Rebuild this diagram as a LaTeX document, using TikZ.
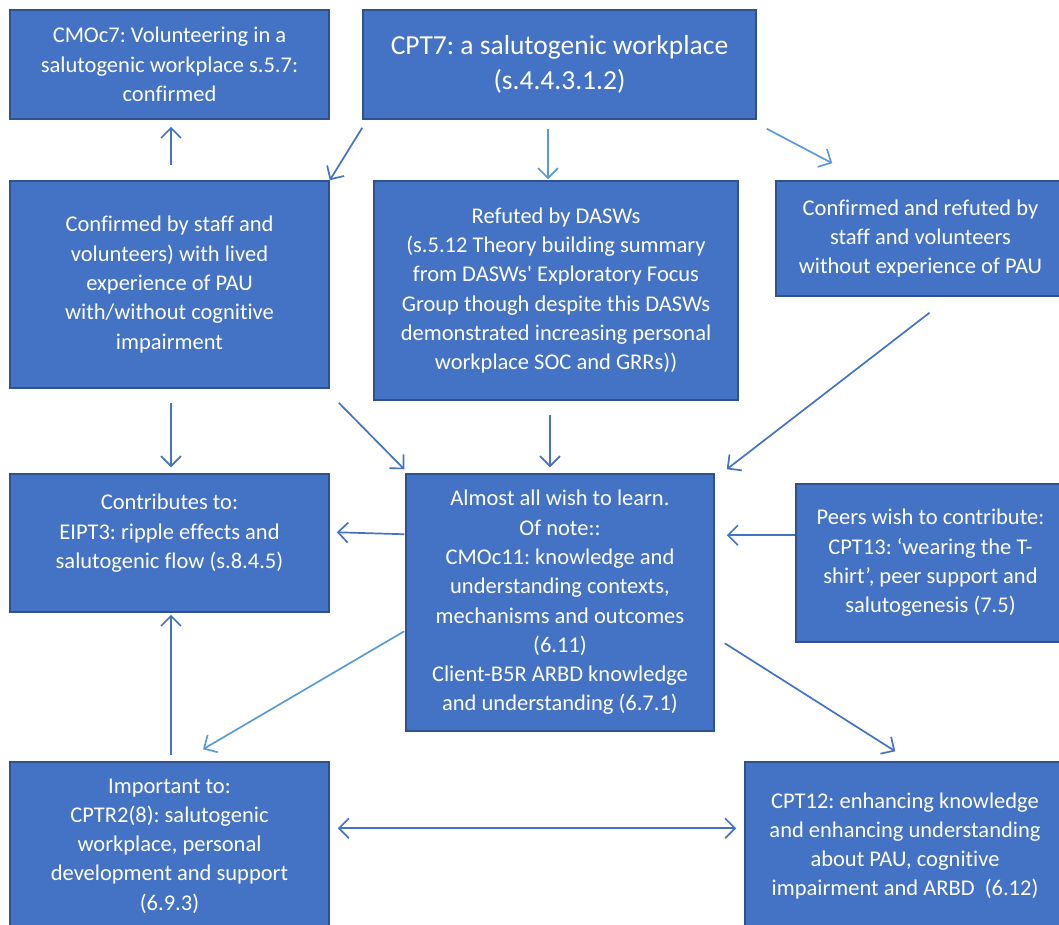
\documentclass[tikz,border=0pt]{standalone}
\usepackage{fontspec}
\setmainfont{Carlito}[Ligatures={TeX,NoCommon}]
\usetikzlibrary{arrows.meta,calc}
\definecolor{boxfill}{HTML}{4472C4}
\definecolor{boxline}{HTML}{2F528F}
\definecolor{arrdark}{HTML}{4472C4}
\definecolor{arrlight}{HTML}{5B9BD5}
\frenchspacing
\begin{document}
\begin{tikzpicture}[x=1pt,y=-1pt,
  box/.style={draw=boxline, line width=1.5pt, fill=boxfill, text=white, align=center,
    inner sep=0pt, font=\fontsize{22.5}{29.3}\selectfont},
  bigtext/.style={font=\fontsize{27.5}{35}\selectfont},
  conn/.style={draw=arrdark, line width=1.7pt, -{Straight Barb[length=10pt,width=20pt,line width=1.7pt]}},
  connl/.style={conn, draw=arrlight},
  both/.style={conn, {Straight Barb[length=10pt,width=20pt,line width=1.7pt]}-{Straight Barb[length=10pt,width=20pt,line width=1.7pt]}}]
\useasboundingbox[fill=white] (0,0) rectangle (1059,924);

\node[box, minimum width=319pt, minimum height=109pt] (cmoc) at (169.5,64.5)
  {CMOc7: Volunteering in a\\salutogenic workplace s.5.7:\\confirmed};
\node[box, bigtext, minimum width=393pt, minimum height=109pt] (cpt7) at (559.5,64.5)
  {CPT7: a salutogenic workplace\\(s.4.4.3.1.2)};
\node[box, minimum width=319pt, minimum height=207pt] (conf) at (169.5,284.5)
  {Confirmed by staff and\\volunteers) with lived\\experience of PAU\\with/without cognitive\\impairment};
\node[box, minimum width=364pt, minimum height=219pt] (ref) at (556,290.5)
  {Refuted by DASWs\\(s.5.12 Theory building summary\\from DASWs\textquotesingle{} Exploratory Focus\\Group though despite this DASWs\\demonstrated increasing personal\\workplace SOC and GRRs))};
\node[box, minimum width=289pt, minimum height=115pt] (cr) at (920.5,238.5)
  {Confirmed and refuted by\\staff and volunteers\\without experience of PAU};
\node[box, minimum width=319pt, minimum height=138pt] (contrib) at (169.5,543)
  {Contributes to:\\EIPT3: ripple effects and\\salutogenic flow (s.8.4.5)\\[-6pt]\mbox{}};
\node[box, minimum width=308pt, minimum height=257pt] (almost) at (560,602.5)
  {Almost all wish to learn.\\Of note::\\CMOc11: knowledge and\\understanding contexts,\\mechanisms and outcomes\\(6.11)\\Client-B5R ARBD knowledge\\and understanding (6.7.1)};
\node[box, minimum width=269pt, minimum height=158pt] (peers) at (930.5,563)
  {Peers wish to contribute:\\CPT13: ‘wearing the T-\\shirt’, peer support and\\salutogenesis (7.5)};
\node[box, minimum width=319pt, minimum height=168pt] (imp) at (169.5,846)
  {Important to:\\CPTR2(8): salutogenic\\workplace, personal\\development and support\\(6.9.3)};
\node[box, minimum width=320pt, minimum height=168pt] (cpt12) at (905,846)
  {CPT12: enhancing knowledge\\and enhancing understanding\\about PAU, cognitive\\impairment and ARBD~~(6.12)};

% connectors
\draw[conn] ($(conf.north)+(1.5,-15)$) -- ($(cmoc.south)+(1.5,7)$);
\draw[conn] ($(cpt7.south west)+(0,8)$) -- (conf.north east);
\draw[connl] ($(cpt7.south)+(-11.5,9)$) -- ($(ref.north)+(-8,-1)$);
\draw[connl] ($(cpt7.south east)+(10,9)$) -- ($(cr.north west)+(57,-17)$);
\draw[conn] ($(conf.south)+(1.5,14)$) -- ($(contrib.north)+(1.5,-6)$);
\draw[conn] ($(conf.south east)+(9,14)$) -- ($(almost.north west)+(-1,-4)$);
\draw[conn] ($(ref.south)+(-6,14)$) -- ($(almost.north)+(-10,-6)$);
\draw[conn] ($(cr.south)+(9,16)$) -- ($(almost.north east)+(12,-4)$);
\draw[conn] ($(almost.north west)+(-1,61)$) -- ($(contrib.north east)+(7,59)$);
\draw[conn] ($(peers.north west)+(0,52)$) -- ($(almost.north east)+(12,62)$);
\draw[connl] ($(almost.north west)+(-1,158)$) -- ($(imp.north)+(33.5,-12)$);
\draw[conn] ($(almost.north east)+(10,170)$) -- ($(cpt12.north west)+(151,-10)$);
\draw[conn] ($(imp.north)+(1.5,-6)$) -- ($(contrib.south)+(1.5,2)$);
\draw[both] ($(imp.north east)+(8,67)$) -- ($(cpt12.north west)+(-8,67)$);
\end{tikzpicture}
\end{document}
